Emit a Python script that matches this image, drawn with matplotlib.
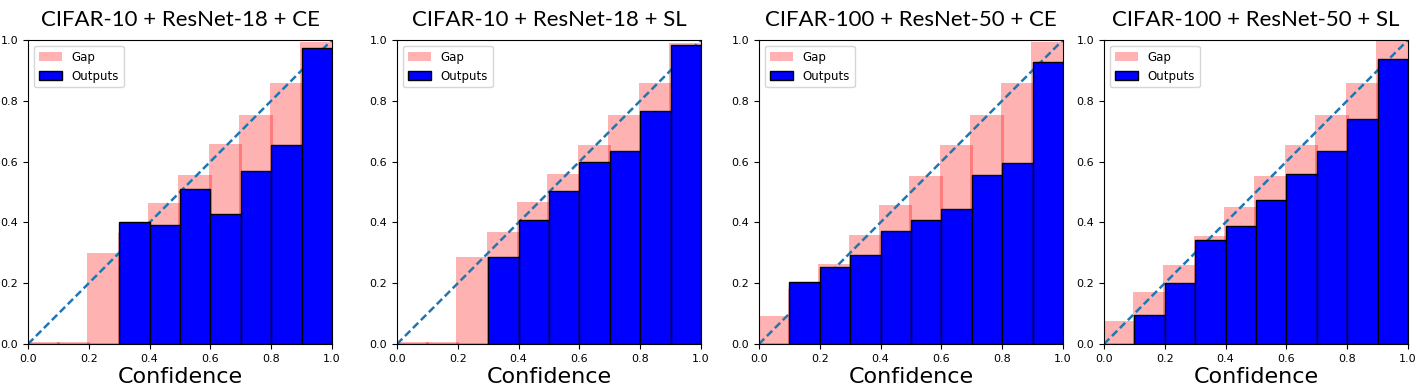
import numpy as np
import matplotlib
matplotlib.use("Agg")
import matplotlib.pyplot as plt

# bin lower edges (10 confidence bins)
bins = np.arange(0.0, 1.0, 0.1)

titles = [
    "CIFAR-10 + ResNet-18 + CE",
    "CIFAR-10 + ResNet-18 + SL",
    "CIFAR-100 + ResNet-50 + CE",
    "CIFAR-100 + ResNet-50 + SL",
]

# mean confidence per bin (top of the pink "Gap" bars)
conf_c10_ce = [0.005, 0.005, 0.300, 0.366, 0.464, 0.557, 0.658, 0.755, 0.860, 0.995]
conf_c10_sl = [0.005, 0.005, 0.286, 0.369, 0.466, 0.560, 0.655, 0.755, 0.857, 0.991]
conf_c100_ce = [0.092, 0.180, 0.264, 0.358, 0.456, 0.554, 0.655, 0.755, 0.857, 0.993]
conf_c100_sl = [0.076, 0.170, 0.260, 0.355, 0.452, 0.554, 0.655, 0.755, 0.857, 0.998]

# accuracy per bin (blue "Outputs" bars)
acc_c10_ce = [0.0, 0.0, 0.0, 0.400, 0.393, 0.509, 0.427, 0.570, 0.654, 0.975]
acc_c10_sl = [0.0, 0.0, 0.0, 0.285, 0.408, 0.502, 0.599, 0.635, 0.766, 0.982]
acc_c100_ce = [0.0, 0.204, 0.253, 0.292, 0.371, 0.408, 0.444, 0.556, 0.597, 0.929]
acc_c100_sl = [0.0, 0.097, 0.201, 0.342, 0.389, 0.473, 0.559, 0.635, 0.741, 0.938]

confs = [conf_c10_ce, conf_c10_sl, conf_c100_ce, conf_c100_sl]
accs = [acc_c10_ce, acc_c10_sl, acc_c100_ce, acc_c100_sl]

fig = plt.figure(figsize=(14.21, 3.92), dpi=100)
lefts = [0.0197, 0.2794, 0.5341, 0.7769]

for left, title, conf, acc in zip(lefts, titles, confs, accs):
    ax = fig.add_axes([left, 0.1224, 0.2139, 0.7755])
    centers = bins + 0.05
    ax.bar(centers, conf, width=0.11, color="red", alpha=0.3, label="Gap", zorder=1)
    ax.plot([0, 1], [0, 1], "--", color="#1f77b4", linewidth=1.8,
            dashes=(3, 1.5), zorder=2)
    ax.bar(centers, acc, width=0.1, color="b", edgecolor="k", linewidth=1,
           label="Outputs", zorder=3)
    ax.set_xlim(0, 1)
    ax.set_ylim(0, 1)
    ax.set_xticks(np.arange(0, 1.01, 0.2))
    ax.set_yticks(np.arange(0, 1.01, 0.2))
    ax.tick_params(labelsize=8, length=3.5)
    ax.set_xlabel("Confidence", fontsize=16, labelpad=2)
    ax.set_title(title, fontsize=16, family="Lato", pad=10)
    ax.legend(loc="upper left", fontsize=8.5)

plt.savefig("out.png", dpi=100)
